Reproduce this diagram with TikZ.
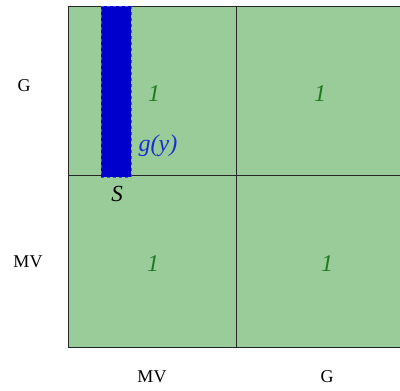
\documentclass[tikz,border=0pt]{standalone}
\usepackage{fontspec}
\setmainfont{Liberation Serif}
\definecolor{cellgreen}{HTML}{99CC99}
\definecolor{txtgreen}{HTML}{1E7A1E}
\definecolor{barblue}{HTML}{0000CC}
\definecolor{edgeblue}{HTML}{3355DD}
\definecolor{txtblue}{HTML}{1A2FD0}
\begin{document}
\begin{tikzpicture}[x=1pt,y=-1pt,
  axislabel/.style={font=\fontsize{18}{20}\selectfont, text=black, inner sep=0pt},
  payoff/.style={font=\fontsize{24}{26}\selectfont\itshape, text=txtgreen, inner sep=0pt},
  gridline/.style={draw=black!85, line width=1pt}]
\useasboundingbox (0,0) rectangle (400,391);
\begin{scope}
\clip (0,0) rectangle (400,391);
\fill[cellgreen] (68,6) rectangle (405,347);
\draw[gridline] (68,6) rectangle (405,347);
\draw[gridline] (236,6) -- (236,347);
\draw[gridline] (68,175) -- (405,175);
\end{scope}
\node[draw=edgeblue, dashed, fill=barblue, line width=0.8pt, minimum width=30pt, minimum height=171pt, inner sep=0pt, anchor=north west] (bar) at (101,6) {};
\node[axislabel] (rG) at (24,86) {G};
\node[axislabel] (rMV) at (28,262) {MV};
\node[axislabel] (cMV) at (152,377) {MV};
\node[axislabel] (cG) at (327,377) {G};
\node[payoff] (p11) at (154,94) {1};
\node[payoff] (p12) at (320,94) {1};
\node[payoff] (p21) at (153,264) {1};
\node[payoff] (p22) at (327,264) {1};
\node[font=\fontsize{24}{26}\selectfont\itshape, text=txtblue, inner sep=0pt] (gy) at (158,146) {g(y)};
\node[font=\fontsize{23}{25}\selectfont\itshape, text=black, inner sep=0pt] (S) at (117,194) {S};
\end{tikzpicture}
\end{document}
